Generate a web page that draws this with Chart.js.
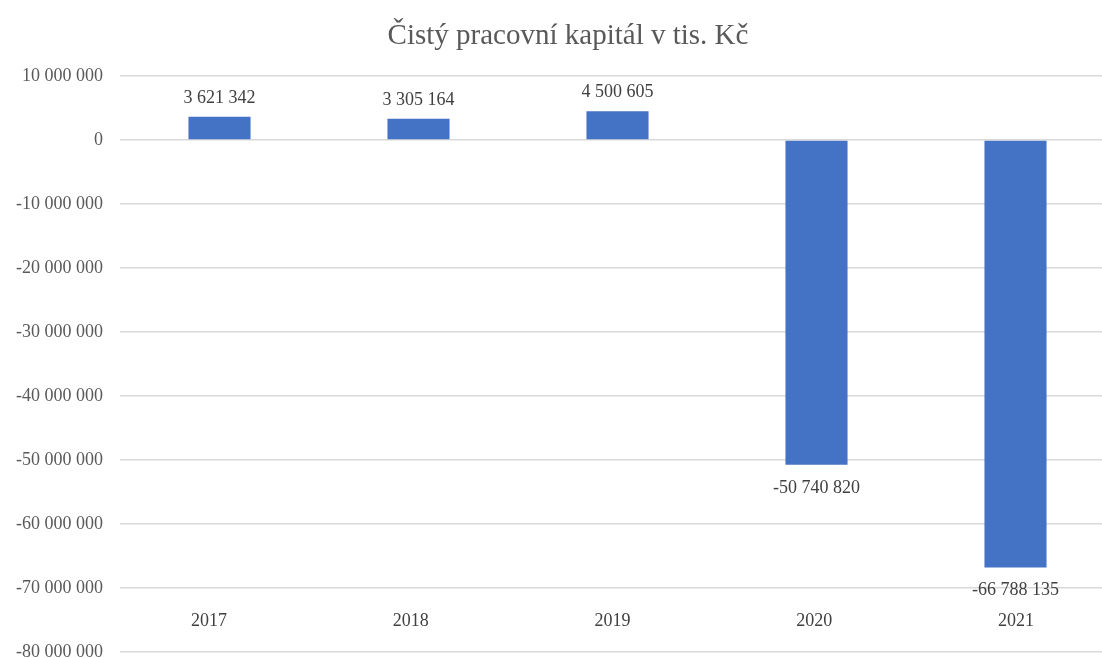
<!DOCTYPE html>
<html lang="cs">
<head>
<meta charset="utf-8">
<title>Čistý pracovní kapitál</title>
<script src="https://cdn.jsdelivr.net/npm/chart.js@4.4.1/dist/chart.umd.min.js"></script>
<style>
    html, body { margin: 0; padding: 0; background: #ffffff; overflow: hidden; }
    /* graf je v originále vpravo oříznutý, proto je plátno širší než okno */
    #wrap { width: 1116px; height: 658px; position: relative; }
</style>
</head>
<body>
<div id="wrap"><canvas id="kapitalChart"></canvas></div>
<script>
const roky = ['2017', '2018', '2019', '2020', '2021'];
const hodnoty = [3621342, 3305164, 4500605, -50740820, -66788135];
const osaMin = -80000000;
const osaMax = 10000000;
const osaKrok = 10000000;
const nadpis = 'Čistý pracovní kapitál v tis. Kč';

const pismo = "'Liberation Serif', 'Times New Roman', serif";

// čísla s mezerou jako oddělovačem tisíců
function formatCislo(v) {
    const s = Math.abs(Math.round(v)).toString().replace(/\B(?=(\d{3})+(?!\d))/g, ' ');
    return (v < 0 ? '-' : '') + s;
}

// nadpis – kreslí se ručně kvůli posunutému středu
const nadpisPlugin = {
    id: 'nadpis',
    afterDraw(chart) {
        const ctx = chart.ctx;
        ctx.save();
        ctx.font = '29px ' + pismo;
        ctx.fillStyle = '#595959';
        ctx.textAlign = 'center';
        ctx.textBaseline = 'alphabetic';
        ctx.fillText(nadpis, 568, 44);
        ctx.restore();
    }
};

// popisky hodnot u sloupců
const popiskyPlugin = {
    id: 'popisky',
    afterDatasetsDraw(chart) {
        const ctx = chart.ctx;
        const meta = chart.getDatasetMeta(0);
        ctx.save();
        ctx.font = '18px ' + pismo;
        ctx.fillStyle = '#404040';
        ctx.textAlign = 'center';
        ctx.textBaseline = 'alphabetic';
        meta.data.forEach((bar, i) => {
            const v = hodnoty[i];
            if (v >= 0) {
                ctx.fillText(formatCislo(v), bar.x, bar.y - 14);
            } else {
                ctx.fillText(formatCislo(v), bar.x, bar.y + 28);
            }
        });
        ctx.restore();
    }
};

const ctx = document.getElementById('kapitalChart').getContext('2d');
const kapitalChart = new Chart(ctx, {
    type: 'bar',
    data: {
        labels: roky,
        datasets: [{
            label: 'Čistý pracovní kapitál',
            data: hodnoty,
            backgroundColor: '#4472C4',
            borderWidth: 0,
            categoryPercentage: 1,
            barPercentage: 0.312
        }]
    },
    options: {
        responsive: true,
        maintainAspectRatio: false,
        animation: false,
        layout: {
            padding: { top: 76, right: 1, bottom: 6, left: 0 }
        },
        plugins: {
            legend: { display: false },
            tooltip: { enabled: false },
            title: { display: false }
        },
        scales: {
            x: {
                display: false
            },
            // popisky let – v originále mírně jinak rozložené než sloupce
            roky: {
                type: 'linear',
                axis: 'x',
                position: { y: -70000000 },
                min: -0.441,
                max: 4.491,
                offset: false,
                grid: { display: false, drawTicks: false, offset: false },
                border: { display: false },
                afterBuildTicks(scale) {
                    scale.ticks = roky.map((r, i) => ({ value: i }));
                },
                afterFit(scale) {
                    scale.paddingLeft = 0;
                    scale.paddingRight = 0;
                },
                ticks: {
                    autoSkip: false,
                    maxRotation: 0,
                    color: '#404040',
                    font: { family: pismo, size: 18 },
                    padding: 22,
                    callback: (v) => roky[v]
                }
            },
            y: {
                min: osaMin,
                max: osaMax,
                ticks: {
                    stepSize: osaKrok,
                    color: '#595959',
                    font: { family: pismo, size: 18 },
                    padding: 17,
                    callback: (v) => formatCislo(v)
                },
                grid: {
                    color: '#D9D9D9',
                    lineWidth: 1.5,
                    drawTicks: false
                },
                border: { display: false },
                afterFit(scale) {
                    scale.width = 120;
                    scale.paddingTop = 0;
                    scale.paddingBottom = 0;
                }
            }
        }
    },
    plugins: [popiskyPlugin, nadpisPlugin]
});
</script>
</body>
</html>
